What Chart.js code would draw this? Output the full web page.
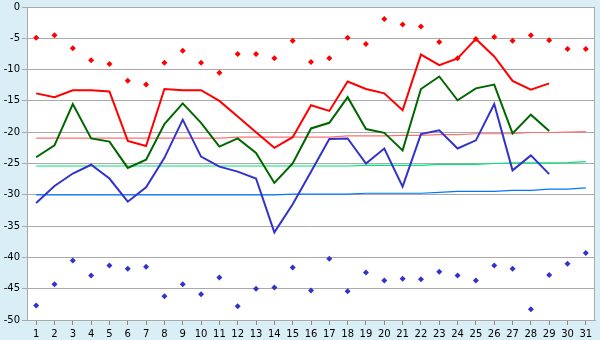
<!DOCTYPE html>
<html>
<head>
<meta charset="utf-8">
<script src="https://cdn.jsdelivr.net/npm/chart.js@4/dist/chart.umd.min.js"></script>
<style>
html,body{margin:0;padding:0;background:#d9eff5;}
#wrap{width:600px;height:340px;}
</style>
</head>
<body>
<div id="wrap"><canvas id="c" width="600" height="340"></canvas></div>
<script>
const days = ['1','2','3','4','5','6','7','8','9','10','11','12','13','14','15','16','17','18','19','20','21','22','23','24','25','26','27','28','29','30','31'];
const yTicks = [0,-5,-10,-15,-20,-25,-30,-35,-40,-45,-50];

const maxTemp = [-13.8,-14.4,-13.3,-13.3,-13.5,-21.4,-22.2,-13.1,-13.3,-13.3,-15.0,-17.5,-20.0,-22.5,-20.8,-15.7,-16.6,-11.9,-13.1,-13.8,-16.5,-7.6,-9.3,-8.2,-5.1,-7.9,-11.8,-13.2,-12.2,null,null];
const avgTemp = [-24.0,-22.1,-15.5,-21.0,-21.5,-25.7,-24.4,-18.7,-15.4,-18.5,-22.3,-21.0,-23.3,-28.1,-25.0,-19.4,-18.5,-14.4,-19.5,-20.1,-22.9,-13.1,-11.1,-14.9,-13.0,-12.4,-20.2,-17.2,-19.8,null,null];
const minTemp = [-31.3,-28.6,-26.6,-25.2,-27.4,-31.1,-28.8,-24.1,-18.0,-23.9,-25.5,-26.3,-27.4,-36.0,-31.5,-26.3,-21.1,-21.0,-25.0,-22.6,-28.7,-20.3,-19.7,-22.6,-21.3,-15.5,-26.1,-23.7,-26.7,null,null];

const recordMax = [-4.9,-4.5,-6.6,-8.5,-9.1,-11.8,-12.4,-8.9,-7.0,-8.9,-10.5,-7.5,-7.5,-8.2,-5.4,-8.8,-8.2,-4.9,-5.9,-1.9,-2.8,-3.1,-5.6,-8.2,-5.1,-4.8,-5.4,-4.5,-5.3,-6.7,-6.7];
const recordMin = [-47.7,-44.3,-40.5,-42.9,-41.3,-41.8,-41.5,-46.2,-44.3,-45.9,-43.2,-47.8,-45.0,-44.8,-41.6,-45.3,-40.2,-45.4,-42.4,-43.7,-43.4,-43.5,-42.3,-42.9,-43.7,-41.3,-41.8,-48.3,-42.8,-41.0,-39.3];

const normMax = [-20.95,-20.95,-20.95,-20.95,-20.95,-20.95,-20.95,-20.95,-20.95,-20.95,-20.95,-20.8,-20.8,-20.8,-20.8,-20.8,-20.8,-20.6,-20.6,-20.6,-20.5,-20.5,-20.4,-20.4,-20.25,-20.25,-20.25,-20.05,-20.05,-20.0,-19.9];
const normAvg = [-25.4,-25.4,-25.4,-25.4,-25.4,-25.4,-25.4,-25.4,-25.4,-25.4,-25.4,-25.4,-25.4,-25.4,-25.4,-25.4,-25.4,-25.4,-25.3,-25.3,-25.3,-25.3,-25.15,-25.15,-25.15,-25.0,-24.9,-24.9,-24.9,-24.85,-24.7];
const normMin = [-30.0,-30.0,-30.0,-30.0,-30.0,-30.0,-30.0,-30.0,-30.0,-30.0,-30.0,-30.0,-30.0,-30.0,-29.9,-29.9,-29.9,-29.9,-29.75,-29.75,-29.75,-29.75,-29.6,-29.45,-29.45,-29.45,-29.3,-29.3,-29.1,-29.1,-28.9];

const FONT = {family:'"DejaVu Sans", Verdana, sans-serif', size:10, lineHeight:1};

const plotBg = {
  id:'plotBg',
  beforeDraw(chart){
    const {ctx, chartArea:a} = chart;
    ctx.save();
    ctx.fillStyle = '#ffffff';
    ctx.fillRect(a.left, a.top, a.right-a.left, a.bottom-a.top);
    ctx.restore();
  },
  afterDraw(chart){
    const {ctx, chartArea:a} = chart;
    ctx.save();
    ctx.strokeStyle = '#aaaaaa';
    ctx.lineWidth = 1;
    ctx.strokeRect(Math.round(a.left)+0.5, Math.round(a.top)+0.5, Math.round(a.right-a.left)-1, Math.round(a.bottom-a.top));
    ctx.restore();
  }
};

function lineDs(data, color, width){
  return {type:'line', data, borderColor:color, backgroundColor:color, borderWidth:width, pointRadius:0, pointHoverRadius:0, fill:false, tension:0, spanGaps:false};
}
function pointDs(data, color){
  return {type:'line', data, showLine:false, borderColor:color, backgroundColor:color, pointStyle:'rectRot', pointRadius:3, pointBorderWidth:0, pointHoverRadius:3};
}

new Chart(document.getElementById('c'), {
  data:{
    labels:days,
    datasets:[
      lineDs(maxTemp,'#ff0000',2),
      lineDs(avgTemp,'#006600',2),
      lineDs(minTemp,'#3333cc',2),
      pointDs(recordMax,'#ff0000'),
      pointDs(recordMin,'#3333cc'),
      lineDs(normMax,'#ff7070',1.2),
      lineDs(normAvg,'#00e676',1.2),
      lineDs(normMin,'#0077ff',1.2)
    ]
  },
  options:{
    responsive:false,
    animation:false,
    devicePixelRatio:1,
    layout:{padding:{top:5,right:5,left:0,bottom:0}},
    plugins:{legend:{display:false}, tooltip:{enabled:false}},
    scales:{
      x:{
        type:'category',
        offset:true,
        grid:{drawOnChartArea:false, offset:false, tickLength:5, color:'#888888'},
        border:{display:true, color:'#aaaaaa'},
        ticks:{font:{family:FONT.family, size:10}, color:'#000000', padding:3, maxRotation:0, autoSkip:false},
        afterFit(s){ s.height = 20; }
      },
      y:{
        min:-50, max:0,
        afterBuildTicks(s){ s.ticks = yTicks.map(v=>({value:v})); },
        grid:{color:'#aaaaaa', tickLength:5},
        border:{display:true, color:'#aaaaaa'},
        ticks:{font:FONT, color:'#000000', padding:2},
        afterFit(s){ s.width = 27; }
      }
    }
  },
  plugins:[plotBg]
});
</script>
</body>
</html>
